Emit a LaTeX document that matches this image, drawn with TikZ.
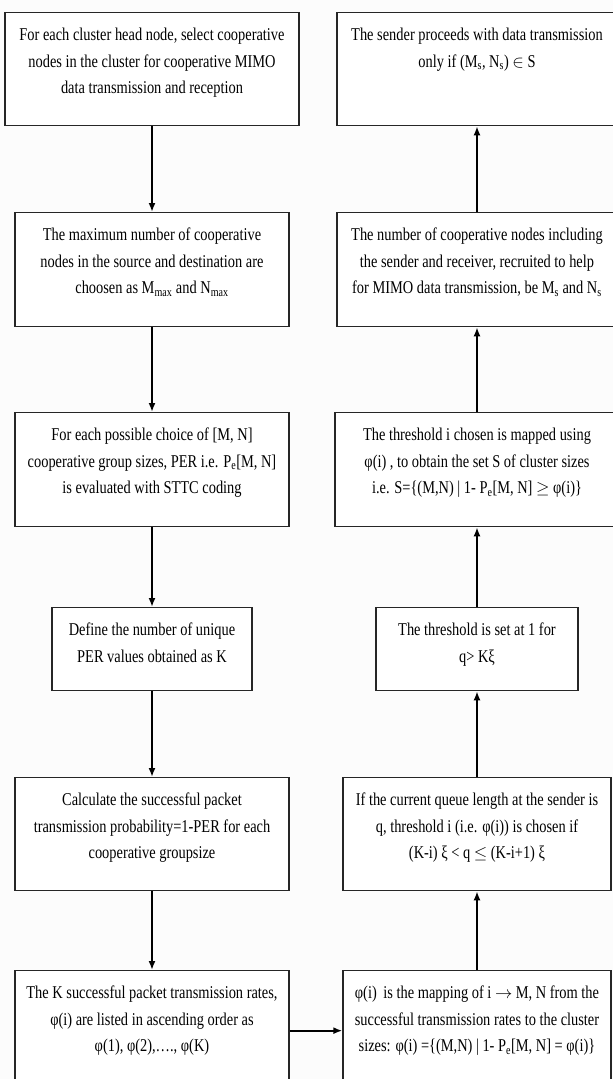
\documentclass[tikz,border=0pt]{standalone}
\usepackage{fontspec}
\setmainfont{Liberation Serif}[FakeStretch=0.8]
\usetikzlibrary{arrows.meta}

% caixa de texto alinhada em cima
\newcommand{\caixa}[3]{\parbox[c][#1][t]{#2}{\centering\rule{0pt}{28pt}#3}}

\begin{document}
\begin{tikzpicture}[x=1pt, y=-1pt,
  every node/.style={font=\fontsize{18}{26.5}\selectfont},
  proc/.style={rectangle, draw=black!85, line width=1.3pt, fill=white, inner sep=0pt, anchor=north},
  seta/.style={-{Latex[length=9pt,width=7pt]}, line width=2pt}
]
\fill[black!1] (0,0) rectangle (613,1079);
\useasboundingbox (0,0) rectangle (613,1079);
\clip (0,0) rectangle (613,1079);

% coluna esquerda
\node[proc] (l1) at (152,12) {\caixa{113pt}{294pt}
  {For each cluster head node, select cooperative\\nodes in the cluster for cooperative MIMO\\data transmission and reception}};
\node[proc] (l2) at (152,212) {\caixa{114pt}{274pt}
  {The maximum number of cooperative\\nodes in the source and destination are\\choosen as M\textsubscript{max} and N\textsubscript{max}}};
\node[proc] (l3) at (152,412) {\caixa{114pt}{274pt}
  {For each possible choice of [M, N]\\cooperative group sizes, PER i.e. P\textsubscript{e}[M, N]\\is evaluated with STTC coding}};
\node[proc] (l4) at (152,607) {\caixa{83pt}{200pt}
  {Define the number of unique\\PER values obtained as K}};
\node[proc] (l5) at (152,777) {\caixa{113pt}{274pt}
  {Calculate the successful packet\\transmission probability=1-PER for each\\cooperative groupsize}};
\node[proc] (l6) at (152,970) {\caixa{120pt}{274pt}
  {The K successful packet transmission rates,\\φ(i) are listed in ascending order as\\φ(1), φ(2),…., φ(K)}};

% coluna direita
\node[proc] (r1) at (477,12) {\caixa{113pt}{280pt}
  {The sender proceeds with data transmission\\only if (M\textsubscript{s}, N\textsubscript{s}) $\in$ S}};
\node[proc] (r2) at (477,212) {\caixa{114pt}{280pt}
  {The number of cooperative nodes including\\the sender and receiver, recruited to help\\for MIMO data transmission, be M\textsubscript{s} and N\textsubscript{s}}};
\node[proc] (r3) at (477,412) {\caixa{114pt}{284pt}
  {The threshold i chosen is mapped using\\φ(i) , to obtain the set S of cluster sizes\\i.e. S=\{(M,N) | 1- P\textsubscript{e}[M, N] $\geq$ φ(i)\}}};
\node[proc] (r4) at (477,607) {\caixa{83pt}{202pt}
  {The threshold is set at 1 for\\q> Kξ}};
\node[proc] (r5) at (477,777) {\caixa{113pt}{268pt}
  {If the current queue length at the sender is\\q, threshold i (i.e. φ(i)) is chosen if\\(K-i) ξ < q $\leq$ (K-i+1) ξ}};
\node[proc] (r6) at (477,970) {\caixa{120pt}{268pt}
  {φ(i)\, is the mapping of i $\rightarrow$ M, N from the\\successful transmission rates to the cluster\\sizes: φ(i) =\{(M,N) | 1- P\textsubscript{e}[M, N] = φ(i)\}}};

% setas
\draw[seta] (l1) -- (l2);
\draw[seta] (l2) -- (l3);
\draw[seta] (l3) -- (l4);
\draw[seta] (l4) -- (l5);
\draw[seta] (l5) -- (l6);
\draw[seta] (l6) -- (r6);
\draw[seta] (r6) -- (r5);
\draw[seta] (r5) -- (r4);
\draw[seta] (r4) -- (r3);
\draw[seta] (r3) -- (r2);
\draw[seta] (r2) -- (r1);
\end{tikzpicture}
\end{document}
